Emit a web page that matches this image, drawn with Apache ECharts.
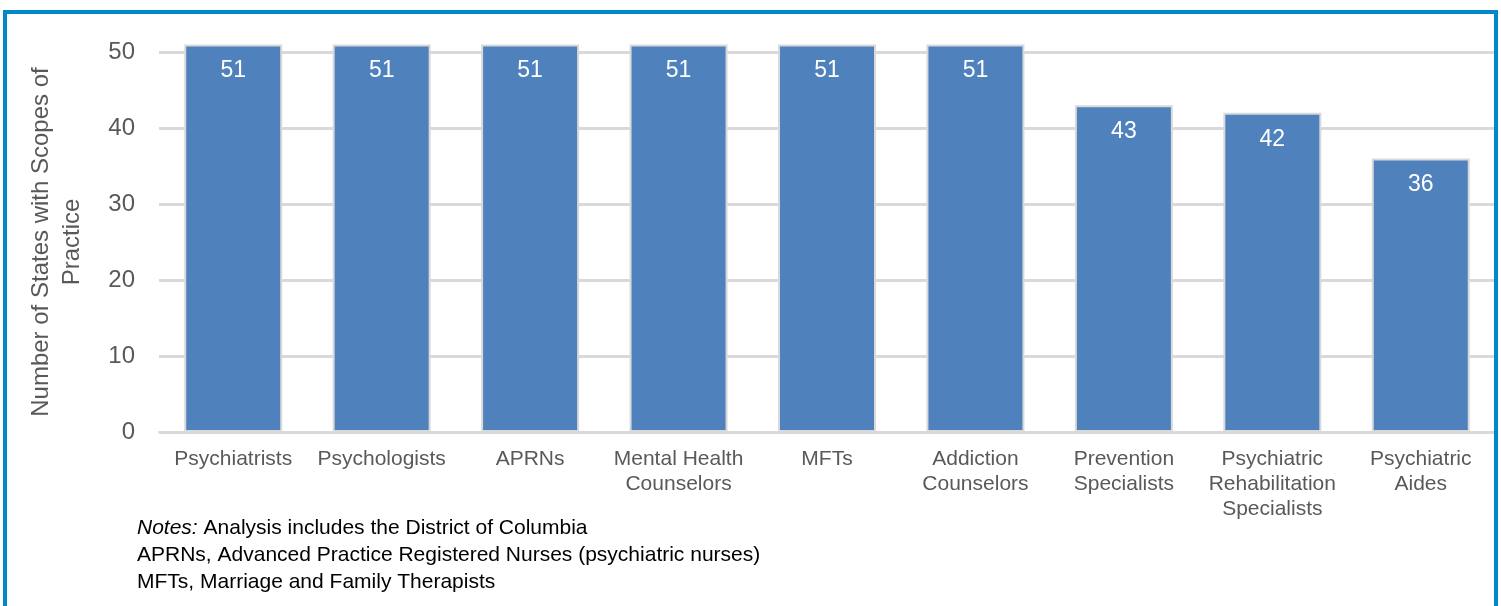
<!DOCTYPE html>
<html><head><meta charset="utf-8">
<script src="https://cdn.jsdelivr.net/npm/echarts@6/dist/echarts.min.js"></script>
<style>html,body{margin:0;padding:0;background:#fff}#c{width:1501px;height:606px}</style>
</head><body><div id="c"></div>
<script>
var categories = ['Psychiatrists','Psychologists','APRNs','Mental Health\nCounselors','MFTs','Addiction\nCounselors','Prevention\nSpecialists','Psychiatric\nRehabilitation\nSpecialists','Psychiatric\nAides'];
var values = [51,51,51,51,51,51,43,42,36];
var yTicks = [0,10,20,30,40,50];
var yAxisName = 'Number of States with Scopes of\nPractice';
var noteLines = ['Analysis includes the District of Columbia','APRNs, Advanced Practice Registered Nurses (psychiatric nurses)','MFTs, Marriage and Family Therapists'];

var chart = echarts.init(document.getElementById('c'), null, {renderer:'canvas'});
var font = 'Liberation Sans, Arial, sans-serif';
chart.setOption({
  animation:false,
  grid:{left:159, right:6, top:52, bottom:174, containLabel:false},
  xAxis:{type:'category', data:categories,
    axisLine:{show:true, lineStyle:{color:'#d9d9d9', width:2}},
    axisTick:{show:false},
    axisLabel:{color:'#595959', fontFamily:font, fontSize:21, lineHeight:25, margin:15, interval:0}
  },
  yAxis:{type:'value', min:yTicks[0], max:yTicks[yTicks.length-1], interval:10,
    name:yAxisName, nameLocation:'middle', nameGap:71, nameRotate:90,
    nameTextStyle:{color:'#595959', fontFamily:font, fontSize:24, lineHeight:31},
    axisLine:{show:false}, axisTick:{show:false},
    axisLabel:{color:'#595959', fontFamily:font, fontSize:24, margin:24},
    splitLine:{lineStyle:{color:'#d9d9d9', width:3}}
  },
  series:[{type:'bar', data:values, barWidth:98, clip:false,
    itemStyle:{color:'#4f81bd', borderColor:'#d9d9d9', borderWidth:2},
    label:{show:true, position:'insideTop', distance:15, color:'#ffffff', fontFamily:font, fontSize:23}
  }],
  graphic:[
    {type:'polyline', shape:{points:[[5,620],[5,12],[1496,12],[1496,620]]}, style:{stroke:'#0088c8', lineWidth:4, fill:null}, z:100},
    {type:'text', left:137, top:518, style:{text:'{i|Notes:} ' + noteLines[0], font:'21px '+font, fill:'#000',
      rich:{i:{fontStyle:'italic', fontSize:21, fontFamily:font, fill:'#000'}}}},
    {type:'text', left:137, top:545, style:{text:noteLines[1], font:'21px '+font, fill:'#000'}},
    {type:'text', left:137, top:572, style:{text:noteLines[2], font:'21px '+font, fill:'#000'}}
  ]
});
</script></body></html>
